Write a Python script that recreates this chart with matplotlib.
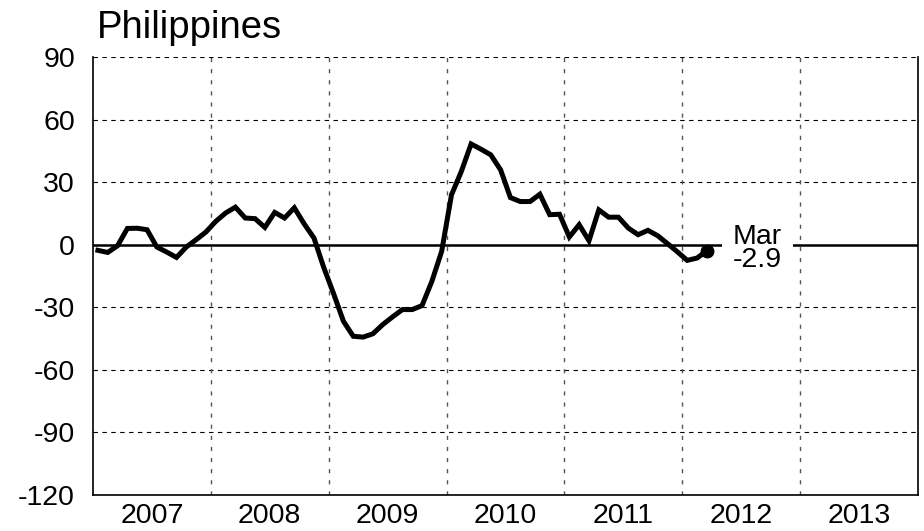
import matplotlib
matplotlib.use("Agg")
import matplotlib.pyplot as plt
import numpy as np

plt.rcParams['font.family'] = ['Liberation Sans', 'DejaVu Sans']

title = "Philippines"
start_year = 2007
values = [-2.7, -3.7, -0.5, 7.8, 7.9, 7.2, -1.1, -3.5, -6.1, -1.1, 2.4, 6.1,
          11.2, 15.2, 18.0, 12.8, 12.5, 8.3, 15.5, 12.8, 17.7, 10.0, 3.2, -11.0,
          -23.5, -36.7, -43.9, -44.3, -42.7, -38.3, -34.6, -31.1, -31.1, -29.2, -17.6, -3.2,
          23.9, 35.1, 48.3, 45.8, 43.1, 35.9, 22.6, 20.7, 20.7, 24.2, 14.4, 14.6,
          3.7, 9.6, 1.9, 16.7, 13.2, 13.2, 8.0, 4.8, 6.9, 4.3, 0.5, -3.4,
          -7.5, -6.4, -2.9]
last_label = "Mar\n-2.9"
year_labels = ["2007", "2008", "2009", "2010", "2011", "2012", "2013"]
y_ticks = [-120, -90, -60, -30, 0, 30, 60, 90]

x = start_year + (np.arange(len(values)) + 0.5) / 12.0

fig = plt.figure(figsize=(9.24, 5.31), dpi=100)
ax = fig.add_axes([93/924, 1 - 495/531, (918-93)/924, (495-57)/531])

ax.set_xlim(2007, 2014)
ax.set_ylim(-120, 90)

# grid lines
for yv in y_ticks:
    ax.axhline(yv, color='black', lw=0.8, dashes=(4, 4), zorder=1)
for yr in range(2008, 2014):
    ax.axvline(yr, color='#555555', lw=1.0, dashes=(3, 5), zorder=1)

ax.axhline(0, color='black', lw=1.8, zorder=2)

ax.plot(x, values, color='black', lw=3.6, solid_joinstyle='miter', zorder=4)
ax.plot(x[-1], values[-1], 'o', color='black', ms=9, zorder=5)

ax.text(2012.43, -1.8, last_label, fontsize=20.5, va='center', ha='left',
        linespacing=0.85, zorder=3,
        bbox=dict(boxstyle='square,pad=0.4', facecolor='white', edgecolor='none'))

ax.set_yticks(y_ticks)
ax.set_yticklabels([str(v) for v in y_ticks], fontsize=20.5)
ax.set_xticks([2007.5 + i for i in range(len(year_labels))])
ax.set_xticklabels(year_labels, fontsize=20.5)
ax.tick_params(axis='both', length=0)
ax.tick_params(axis='y', pad=13)
ax.tick_params(axis='x', pad=6)

ax.spines['top'].set_visible(False)
for s in ['left', 'right', 'bottom']:
    ax.spines[s].set_linewidth(1.2)

fig.text(97/924, 1 - 38/531, title, fontsize=27.5, ha='left', va='baseline')

fig.savefig("out.png", dpi=100)
